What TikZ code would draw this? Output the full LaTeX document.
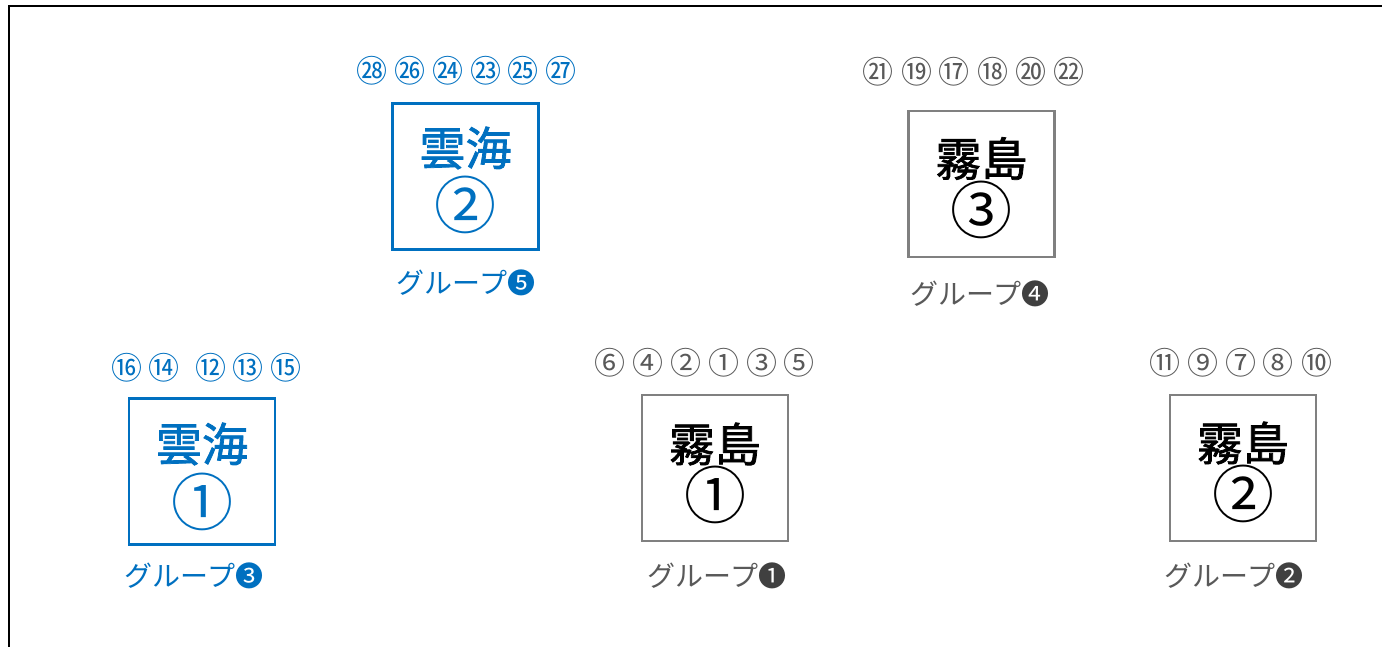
\documentclass[tikz,border=0pt]{standalone}
\usepackage{fontspec}
\setmainfont{Noto Sans CJK JP}
\newfontfamily\titlefont[FakeBold=1.6]{Noto Sans CJK JP}
\definecolor{cblue}{HTML}{0070C0}
\definecolor{cgrayline}{HTML}{808080}
\definecolor{cgraytext}{HTML}{595959}
\definecolor{cdark}{HTML}{404040}
\tikzset{
  seatbox/.style={draw, minimum width=146pt, minimum height=146pt, line width=2.6pt, inner sep=0pt},
  bluebox/.style={seatbox, draw=cblue},
  graybox/.style={seatbox, draw=cgrayline},
  title/.style={inner sep=0pt, font=\fontsize{46}{50}\titlefont},
  bignum/.style={inner sep=0pt, font=\fontsize{62}{64}\selectfont},
  small/.style={inner sep=0pt, font=\fontsize{31}{34}\selectfont},
  grp/.style={inner sep=0pt, font=\fontsize{28}{32}\selectfont}
}
\begin{document}
\begin{tikzpicture}[x=1pt,y=-1pt]
\useasboundingbox (0,0) rectangle (1382,646);
\coordinate (fa) at (9,660);
\coordinate (fb) at (9,6);
\coordinate (fc) at (1400,6);
\draw[line width=2.6pt] (fa) -- (fb) -- (fc);

% --- 雲海 ② ---
\node[bluebox] (u2) at (465.5,176.5) {};
\node[title, text=cblue] (u2t) at (465.5,148) {雲海};
\node[bignum, text=cblue] (u2n) at (465.5,205) {②};
\node[grp, text=cblue] (u2g) at (466,283) {グループ❺};
\foreach \n/\x in {㉘/372,㉖/410,㉔/448,㉓/486,㉕/523,㉗/561}
  \node[small, text=cblue] at (\x,71) {\n};

% --- 霧島 ③ ---
\node[graybox] (k3) at (981.5,184) {};
\node[title] (k3t) at (981.5,158.5) {霧島};
\node[bignum] (k3n) at (981.5,210) {③};
\node[grp, text=cgraytext] (k3g) at (980,294) {グループ{\color{cdark}❹}};
\foreach \n/\x in {㉑/878,⑲/917,⑰/954,⑱/993,⑳/1031,㉒/1069}
  \node[small, text=cgraytext] at (\x,72) {\n};

% --- 雲海 ① ---
\node[bluebox] (u1) at (202,471.5) {};
\node[title, text=cblue] (u1t) at (202,444) {雲海};
\node[bignum, text=cblue] (u1n) at (202,502) {①};
\node[grp, text=cblue] (u1g) at (194,576) {グループ❸};
\foreach \n/\x in {⑯/127,⑭/164,⑫/211,⑬/248,⑮/286}
  \node[small, text=cblue] at (\x,368) {\n};

% --- 霧島 ① ---
\node[graybox] (k1) at (715,468) {};
\node[title] (k1t) at (715,444) {霧島};
\node[bignum] (k1n) at (715,495) {①};
\node[grp, text=cgraytext] (k1g) at (717,576) {グループ{\color{cdark}❶}};
\foreach \n/\x in {⑥/610,④/648,②/686,①/724,③/762,⑤/799}
  \node[small, text=cgraytext] at (\x,363) {\n};

% --- 霧島 ② ---
\node[graybox] (k2) at (1243,468) {};
\node[title] (k2t) at (1243,443) {霧島};
\node[bignum] (k2n) at (1243,494) {②};
\node[grp, text=cgraytext] (k2g) at (1234,576) {グループ{\color{cdark}❷}};
\foreach \n/\x in {⑪/1165,⑨/1203,⑦/1241,⑧/1278,⑩/1317}
  \node[small, text=cgraytext] at (\x,363) {\n};
\end{tikzpicture}
\end{document}
